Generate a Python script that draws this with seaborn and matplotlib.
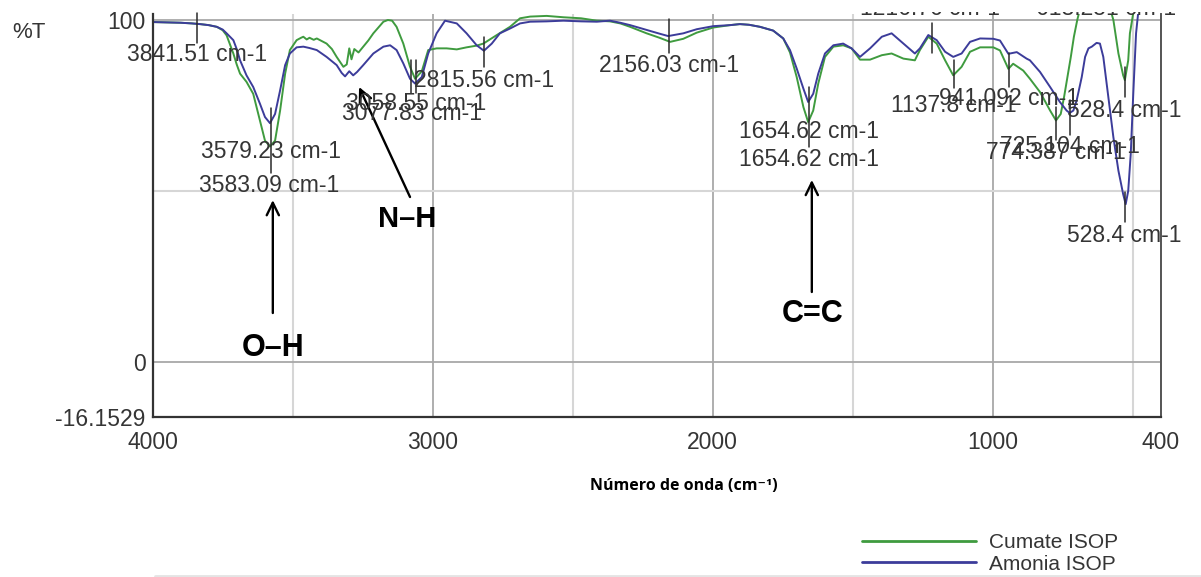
import numpy as np
import pandas as pd
import matplotlib
matplotlib.use("Agg")
import matplotlib.pyplot as plt
from matplotlib.transforms import Bbox, TransformedBbox
from matplotlib.lines import Line2D
import seaborn as sns

# ---------------- data ----------------
series_names = ["Cumate ISOP", "Amonia ISOP"]

cumate_wn = [4000, 3950, 3900, 3860, 3831, 3800, 3771, 3750, 3736, 3712, 3700, 3688, 3665, 3641,
             3617, 3599, 3581, 3563, 3545, 3527, 3510, 3486, 3470, 3462, 3450, 3440, 3425, 3414,
             3400, 3379, 3360, 3343, 3319, 3307, 3298, 3290, 3280, 3265, 3248, 3230, 3212, 3176,
             3160, 3145, 3129, 3105, 3081, 3063, 3039, 3016, 2986, 2950, 2914, 2879, 2843, 2819,
             2771, 2724, 2688, 2652, 2593, 2533, 2470, 2414, 2367, 2330, 2295, 2236, 2190, 2152,
             2105, 2057, 1998, 1938, 1903, 1870, 1831, 1784, 1748, 1724, 1700, 1676, 1659, 1641,
             1623, 1599, 1569, 1534, 1504, 1474, 1438, 1396, 1361, 1319, 1278, 1260, 1230, 1200,
             1170, 1141, 1111, 1081, 1045, 998, 974, 944, 927, 891, 867, 831, 795, 774, 757, 745,
             733, 721, 710, 698, 686, 660, 620, 590, 569, 551, 534, 528, 516, 510, 502, 490, 450, 400]
cumate_t = [99.4, 99.3, 99.2, 99.0, 98.8, 98.5, 98.0, 97.0, 95.5, 90.2, 87.0, 84.3, 81.9, 78.4,
            70.6, 64.7, 63.0, 64.7, 73.5, 84.3, 91.2, 94.1, 94.8, 95.1, 94.3, 94.8, 94.2, 94.6,
            94.0, 93.1, 91.5, 89.2, 86.3, 87.0, 91.7, 88.5, 91.5, 90.5, 92.2, 94.0, 96.1, 99.5,
            100.0, 99.8, 98.0, 93.1, 86.3, 82.8, 85.0, 91.2, 91.7, 91.7, 91.4, 92.0, 92.5, 93.1,
            95.6, 98.0, 100.5, 101.0, 101.2, 100.8, 100.5, 99.8, 99.6, 99.0, 98.0, 96.1, 94.8, 93.6,
            94.5, 96.3, 97.8, 98.5, 98.8, 98.6, 98.0, 96.9, 94.6, 90.5, 83.3, 74.5, 70.1, 73.5,
            81.4, 89.2, 92.2, 92.6, 91.7, 88.4, 88.4, 89.7, 90.2, 88.7, 88.2, 91.2, 95.1, 93.1,
            88.2, 83.8, 86.3, 90.7, 92.0, 92.0, 91.1, 85.7, 87.2, 85.2, 82.8, 78.9, 73.5, 70.6, 72.5, 77.5,
            83.3, 89.2, 95.1, 100.0, 104.0, 108.0, 109.0, 106.0, 100.0, 90.2, 83.8, 82.4, 88.2, 96.1, 100.0, 106.0, 110.0, 112.0]

amonia_wn = [4000, 3950, 3900, 3860, 3831, 3800, 3771, 3750, 3736, 3712, 3700, 3688, 3665, 3641,
             3617, 3599, 3581, 3563, 3545, 3527, 3510, 3486, 3462, 3440, 3414, 3379, 3343, 3325,
             3313, 3298, 3284, 3270, 3248, 3212, 3176, 3152, 3129, 3105, 3081, 3063, 3039, 3016,
             2986, 2956, 2914, 2879, 2843, 2817, 2789, 2760, 2724, 2688, 2652, 2593, 2533, 2470,
             2414, 2367, 2330, 2295, 2236, 2190, 2159, 2105, 2057, 1998, 1938, 1903, 1870, 1831,
             1784, 1748, 1724, 1700, 1676, 1659, 1641, 1623, 1599, 1569, 1534, 1504, 1474, 1438,
             1396, 1361, 1319, 1278, 1260, 1230, 1200, 1170, 1141, 1111, 1081, 1045, 998, 974,
             944, 914, 879, 867, 831, 795, 760, 736, 725, 712, 700, 682, 670, 658, 646, 629, 617,
             605, 587, 569, 551, 534, 525, 516, 507, 498, 488, 478, 460, 430, 400]
amonia_t = [99.4, 99.3, 99.2, 99.0, 98.8, 98.5, 98.0, 97.2, 96.1, 94.1, 91.5, 88.2, 83.8, 80.4,
            75.5, 71.6, 69.8, 72.5, 79.4, 86.8, 90.2, 92.0, 92.2, 91.8, 91.2, 89.2, 86.8, 84.5,
            83.5, 85.0, 83.8, 84.8, 86.8, 90.2, 92.2, 92.6, 91.2, 87.3, 82.8, 81.4, 83.3, 90.2,
            96.1, 99.8, 99.0, 96.1, 92.6, 91.0, 93.1, 96.1, 97.5, 99.0, 99.5, 99.6, 99.8, 99.6,
            99.5, 99.8, 99.2, 98.5, 97.1, 96.0, 95.3, 96.1, 97.3, 98.2, 98.5, 98.8, 98.6, 98.0,
            96.9, 94.6, 91.2, 85.8, 79.9, 76.0, 78.4, 84.3, 90.2, 92.6, 93.1, 91.7, 89.2, 91.7,
            95.1, 96.1, 93.1, 90.2, 91.7, 95.6, 94.1, 90.7, 89.2, 90.2, 93.6, 94.6, 94.5, 94.0,
            90.1, 90.6, 88.7, 88.2, 84.8, 80.4, 76.0, 73.5, 72.8, 73.5, 76.5, 83.3, 89.2, 91.7, 92.2, 93.3, 93.1,
            89.2, 77.5, 65.7, 55.9, 49.0, 46.1, 50.0, 60.8, 78.4, 96.1, 104.0, 109.0, 112.0, 113.0]

# peak labels: wavenumber, text
peak_wn = [3841.51, 3579.23, 3583.09, 3077.83, 3058.55, 2815.56, 2156.03, 1654.62, 1654.62,
           1216.76, 618.251, 1137.8, 941.092, 774.387, 725.104, 528.4, 528.4]
peak_txt = ["3841.51 cm-1", "3579.23 cm-1", "3583.09 cm-1", "3077.83 cm-1", "3058.55 cm-1",
            "2815.56 cm-1", "2156.03 cm-1", "1654.62 cm-1", "1654.62 cm-1", "1216.76 cm-1",
            "618.251 cm-1", "1137.8 cm-1", "941.092 cm-1", "774.387 cm-1", "725.104 cm-1",
            "528.4 cm-1", "528.4 cm-1"]

x_ticks = [4000, 3000, 2000, 1000, 400]
x_minor = [3500, 2500, 1500, 500]
y_ticks = [100, 0, -16.1529]
y_tick_labels = ["100", "0", "-16.1529"]
y_minor = [50]

# ---------------- figure ----------------
sns.set_style("white")
plt.rcParams["font.family"] = ["Liberation Sans", "DejaVu Sans"]

W, H = 1201, 577
fig = plt.figure(figsize=(W / 100, H / 100), dpi=100)
ax = fig.add_axes([152.7 / W, 1 - 416.9 / H, (1160.7 - 152.7) / W, (416.9 - 13.85) / H])

df = pd.concat([
    pd.DataFrame({"wn": cumate_wn, "T": cumate_t, "sample": series_names[0]}),
    pd.DataFrame({"wn": amonia_wn, "T": amonia_t, "sample": series_names[1]}),
])
palette = {series_names[0]: "#3f9b3f", series_names[1]: "#3c3c9a"}
sns.lineplot(data=df, x="wn", y="T", hue="sample", hue_order=series_names, palette=palette,
             lw=1.4, ax=ax, estimator=None, sort=True)

ax.set_xlim(4000, 400)
ax.set_ylim(-16.1529, 101.8)
ax.set_xlabel("")
ax.set_ylabel("")

txtc = "#353535"
ax.set_xticks(x_ticks)
ax.set_xticklabels([str(t) for t in x_ticks])
ax.set_xticks(x_minor, minor=True)
ax.set_yticks(y_ticks)
ax.set_yticklabels(y_tick_labels)
ax.set_yticks(y_minor, minor=True)
ax.tick_params(axis="x", which="major", direction="in", length=12, width=1.4, color="#333333",
               pad=10, labelsize=16.5, labelcolor=txtc)
ax.tick_params(axis="x", which="minor", direction="in", length=7, width=1.4, color="#333333")
ax.tick_params(axis="y", which="major", direction="in", length=11, width=1.4, color="#333333",
               pad=5, labelsize=16.5, labelcolor=txtc)
ax.tick_params(axis="y", which="minor", direction="in", length=7, width=1.4, color="#333333")
ax.grid(which="major", color="#a8a8a8", lw=1.3)
ax.grid(which="minor", color="#d6d6d6", lw=1.5)
ax.set_axisbelow(True)
ax.spines["top"].set_visible(False)
for s in ["left", "bottom"]:
    ax.spines[s].set_color("#333333")
    ax.spines[s].set_linewidth(1.6)
ax.spines["right"].set_color("#555555")
ax.spines["right"].set_linewidth(1.4)

# ---------------- peak markers ----------------
tick_ext = [(101.96, 93.18), (74.25, 55.22), None, (88.29, 78.64), (88.29, 78.64), (95.11, 86.33),
            (100.2, 90.43), (80.48, 62.92), None, (99.03, 90.25), None, (88.29, 80.1),
            (90.34, 80.39), (74.54, 64.88), (76.59, 66.35), (86.33, 77.55), (49.75, 40.97)]
text_y = [89.76, 61.52, 51.71, 72.78, 75.71, 82.44, 86.83, 67.37, 59.32, 103.42, 103.42,
          74.98, 77.17, 61.22, 62.98, 73.66, 37.08]
text_dx = [0, 0, 0, -4, 0, 0, 0, 0, 0, 8, -23, 0, 0, 0, 0, 0, 0]
clip = TransformedBbox(Bbox([[0, 0], [1, 1 - 11.5 / H]]), fig.transFigure)
for w, s, ext, ty, dx in zip(peak_wn, peak_txt, tick_ext, text_y, text_dx):
    if ext is not None:
        ax.plot([w, w], list(ext), color="#2a2a2a", lw=1.1, clip_on=False, zorder=3)
    t = ax.text(w + dx, ty, s, ha="center", va="center", fontsize=16.5, color=txtc,
                clip_on=True, zorder=4)
    t.set_clip_box(clip)

# ---------------- functional group arrows ----------------
arr = dict(arrowstyle="->,head_length=0.45,head_width=0.22", lw=1.7, color="black",
           shrinkA=0, shrinkB=0, mutation_scale=20)
ax.annotate("", xy=(3571, 47.3), xytext=(3571, 14.25), arrowprops=arr, annotation_clip=False)
ax.text(3571, 4.15, "O–H", ha="center", va="center", fontsize=22, fontweight="bold", color="black")
ax.annotate("", xy=(3263, 80.4), xytext=(3081, 48.2), arrowprops=arr, annotation_clip=False)
ax.text(3091, 41.8, "N–H", ha="center", va="center", fontsize=21, fontweight="bold", color="black")
ax.annotate("", xy=(1646, 53.2), xytext=(1646, 20.4), arrowprops=arr, annotation_clip=False)
ax.text(1643, 14.1, "C=C", ha="center", va="center", fontsize=22, fontweight="bold", color="black")

# ---------------- outer texts ----------------
fig.text(12 / W, 1 - 32 / H, "%T", ha="left", va="center", fontsize=16, color=txtc)
fig.text(684 / W, 1 - 486 / H, "Número de onda (cm⁻¹)", ha="center", va="center",
         fontsize=11.5, fontweight="bold", family=["Open Sans", "DejaVu Sans"], color="black")

# legend
handles, labels = ax.get_legend_handles_labels()
for h in handles:
    h.set_linewidth(2.0)
ax.legend(handles, labels, loc="center left", bbox_to_anchor=(861.7 / W, 1 - 553.4 / H),
          bbox_transform=fig.transFigure, frameon=False, fontsize=15, borderpad=0,
          borderaxespad=0, handlelength=5.5, handletextpad=0.62, labelspacing=0.12,
          labelcolor=txtc)

fig.add_artist(Line2D([155 / W, 1], [1.5 / H, 1.5 / H], transform=fig.transFigure,
                      color="#e4e4e4", lw=2))

fig.savefig("out.png", dpi=100)
